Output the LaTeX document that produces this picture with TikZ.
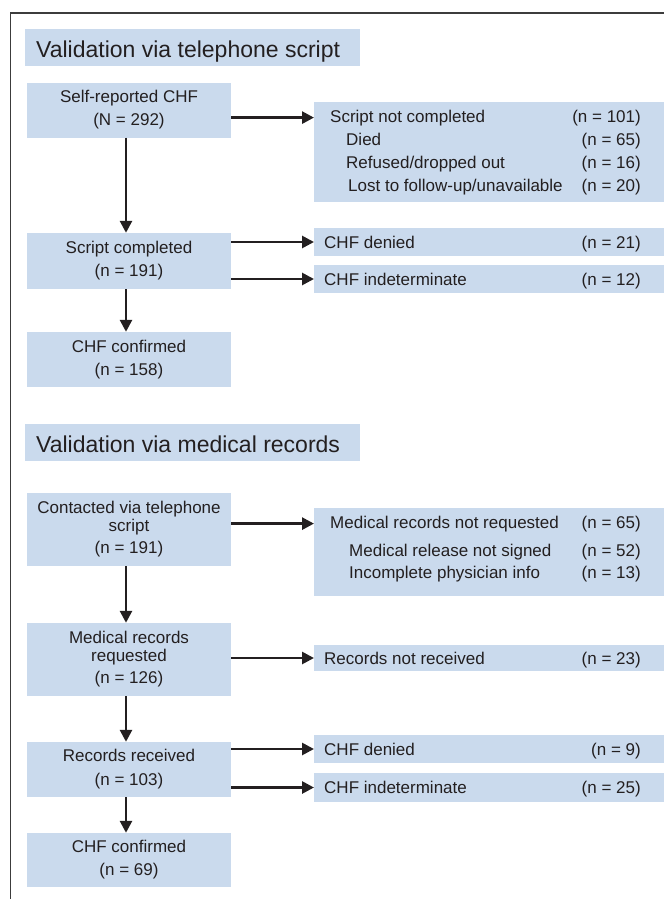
\documentclass[tikz,border=0pt]{standalone}
\usepackage{fontspec}
\setmainfont{Liberation Sans}
\usetikzlibrary{arrows.meta,positioning}
\definecolor{boxblue}{RGB}{202,218,237}
\definecolor{inkgray}{RGB}{35,31,32}
\definecolor{framegray}{RGB}{60,60,60}
\tikzset{
  stepbox/.style={fill=boxblue, text=inkgray, minimum width=204pt, inner sep=0pt,
    align=center, font=\fontsize{17}{20}\selectfont},
  sidebox/.style={fill=boxblue, minimum width=350pt, inner sep=0pt, anchor=west},
  sidetext/.style={text=inkgray, inner sep=0pt, font=\fontsize{17}{20}\selectfont},
  sidelabel/.style={sidetext, anchor=base west},
  sidecount/.style={sidetext, anchor=base east},
  titlebox/.style={fill=boxblue, minimum width=335pt, minimum height=37pt,
    inner sep=0pt, anchor=west},
  titletext/.style={text=inkgray, inner sep=0pt, anchor=base west,
    font=\fontsize{23}{26}\selectfont},
  flow/.style={draw=inkgray, line width=2.7pt, -{Triangle[length=12pt,width=12pt]}}
}
\begin{document}
\begin{tikzpicture}[x=1pt,y=-1pt]
\newcommand{\midx}{129}
\newcommand{\sidex}{314}
\newcommand{\numx}{641}
\useasboundingbox (0,0) rectangle (664,899);
\draw[framegray, line width=1.7pt] (10.5,899) -- (10.5,13) -- (664,13);

\node[titlebox] (title1) at (25,47.5) {};
\node[titletext] (title1txt) at (36,57) {Validation via telephone script};

\node[stepbox, minimum height=55pt] (selfrep) at (\midx,110) {Self-reported CHF\\[3pt](N = 292)};
\node[stepbox, minimum height=56pt] (scriptdone) at (\midx,261) {Script completed\\[3pt](n = 191)};
\node[stepbox, minimum height=55pt] (confirm1) at (\midx,359.5) {CHF confirmed\\[3pt](n = 158)};

\node[sidebox, minimum height=100pt] (notdone) at (\sidex,152) {};
\node[sidelabel] (notdone1) at (330,122) {Script not completed};
\node[sidecount] (notdone1n) at (\numx,122) {(n = 101)};
\node[sidelabel] (notdone2) at (346,145) {Died};
\node[sidecount] (notdone2n) at (\numx,145) {(n = 65)};
\node[sidelabel] (notdone3) at (346,168) {Refused/dropped out};
\node[sidecount] (notdone3n) at (\numx,168) {(n = 16)};
\node[sidelabel] (notdone4) at (348,191) {Lost to follow-up/unavailable};
\node[sidecount] (notdone4n) at (\numx,191) {(n = 20)};

\node[sidebox, minimum height=28pt] (denied1) at (\sidex,242) {};
\node[sidelabel] (denied1txt) at (324,248) {CHF denied};
\node[sidecount] (denied1n) at (\numx,248) {(n = 21)};
\node[sidebox, minimum height=28pt] (indet1) at (\sidex,279) {};
\node[sidelabel] (indet1txt) at (324,285) {CHF indeterminate};
\node[sidecount] (indet1n) at (\numx,285) {(n = 12)};

\draw[flow] (selfrep.east |- notdone1.west) -- (notdone.west |- notdone1.west);
\draw[flow] ([xshift=-3pt]selfrep.south) -- ([xshift=-3pt]scriptdone.north);
\draw[flow] (scriptdone.east |- denied1.west) -- (denied1.west);
\draw[flow] (scriptdone.east |- indet1.west) -- (indet1.west);
\draw[flow] ([xshift=-3pt]scriptdone.south) -- ([xshift=-3pt]confirm1.north);

\node[titlebox] (title2) at (25,442.5) {};
\node[titletext] (title2txt) at (36,452) {Validation via medical records};

\node[stepbox, minimum height=73pt] (contacted) at (\midx,529.5) {Contacted via telephone\\[-2pt]script\\[2pt](n = 191)};
\node[stepbox, minimum height=73pt] (requested) at (\midx,659.5) {Medical records\\[-2pt]requested\\[2pt](n = 126)};
\node[stepbox, minimum height=55pt] (received) at (\midx,769.5) {Records received\\[4pt](n = 103)};
\node[stepbox, minimum height=54pt] (confirm2) at (\midx,860) {CHF confirmed\\[3pt](n = 69)};

\node[sidebox, minimum height=88pt] (notreq) at (\sidex,552) {};
\node[sidelabel] (notreq1) at (330,528) {Medical records not requested};
\node[sidecount] (notreq1n) at (\numx,528) {(n = 65)};
\node[sidelabel] (notreq2) at (349,556) {Medical release not signed};
\node[sidecount] (notreq2n) at (\numx,556) {(n = 52)};
\node[sidelabel] (notreq3) at (349,578) {Incomplete physician info};
\node[sidecount] (notreq3n) at (\numx,578) {(n = 13)};

\node[sidebox, minimum height=26pt] (notrecv) at (\sidex,658) {};
\node[sidelabel] (notrecvtxt) at (324,664) {Records not received};
\node[sidecount] (notrecvn) at (\numx,664) {(n = 23)};

\node[sidebox, minimum height=28pt] (denied2) at (\sidex,749) {};
\node[sidelabel] (denied2txt) at (324,755) {CHF denied};
\node[sidecount] (denied2n) at (\numx,755) {(n = 9)};
\node[sidebox, minimum height=29pt] (indet2) at (\sidex,787.5) {};
\node[sidelabel] (indet2txt) at (324,793) {CHF indeterminate};
\node[sidecount] (indet2n) at (\numx,793) {(n = 25)};

\draw[flow] (contacted.east |- notreq1.west) -- (notreq.west |- notreq1.west);
\draw[flow] ([xshift=-3pt]contacted.south) -- ([xshift=-3pt]requested.north);
\draw[flow] (requested.east |- notrecv.west) -- (notrecv.west);
\draw[flow] ([xshift=-3pt]requested.south) -- ([xshift=-3pt]received.north);
\draw[flow] (received.east |- denied2.west) -- (denied2.west);
\draw[flow] (received.east |- indet2.west) -- (indet2.west);
\draw[flow] ([xshift=-3pt]received.south) -- ([xshift=-3pt]confirm2.north);
\end{tikzpicture}
\end{document}
